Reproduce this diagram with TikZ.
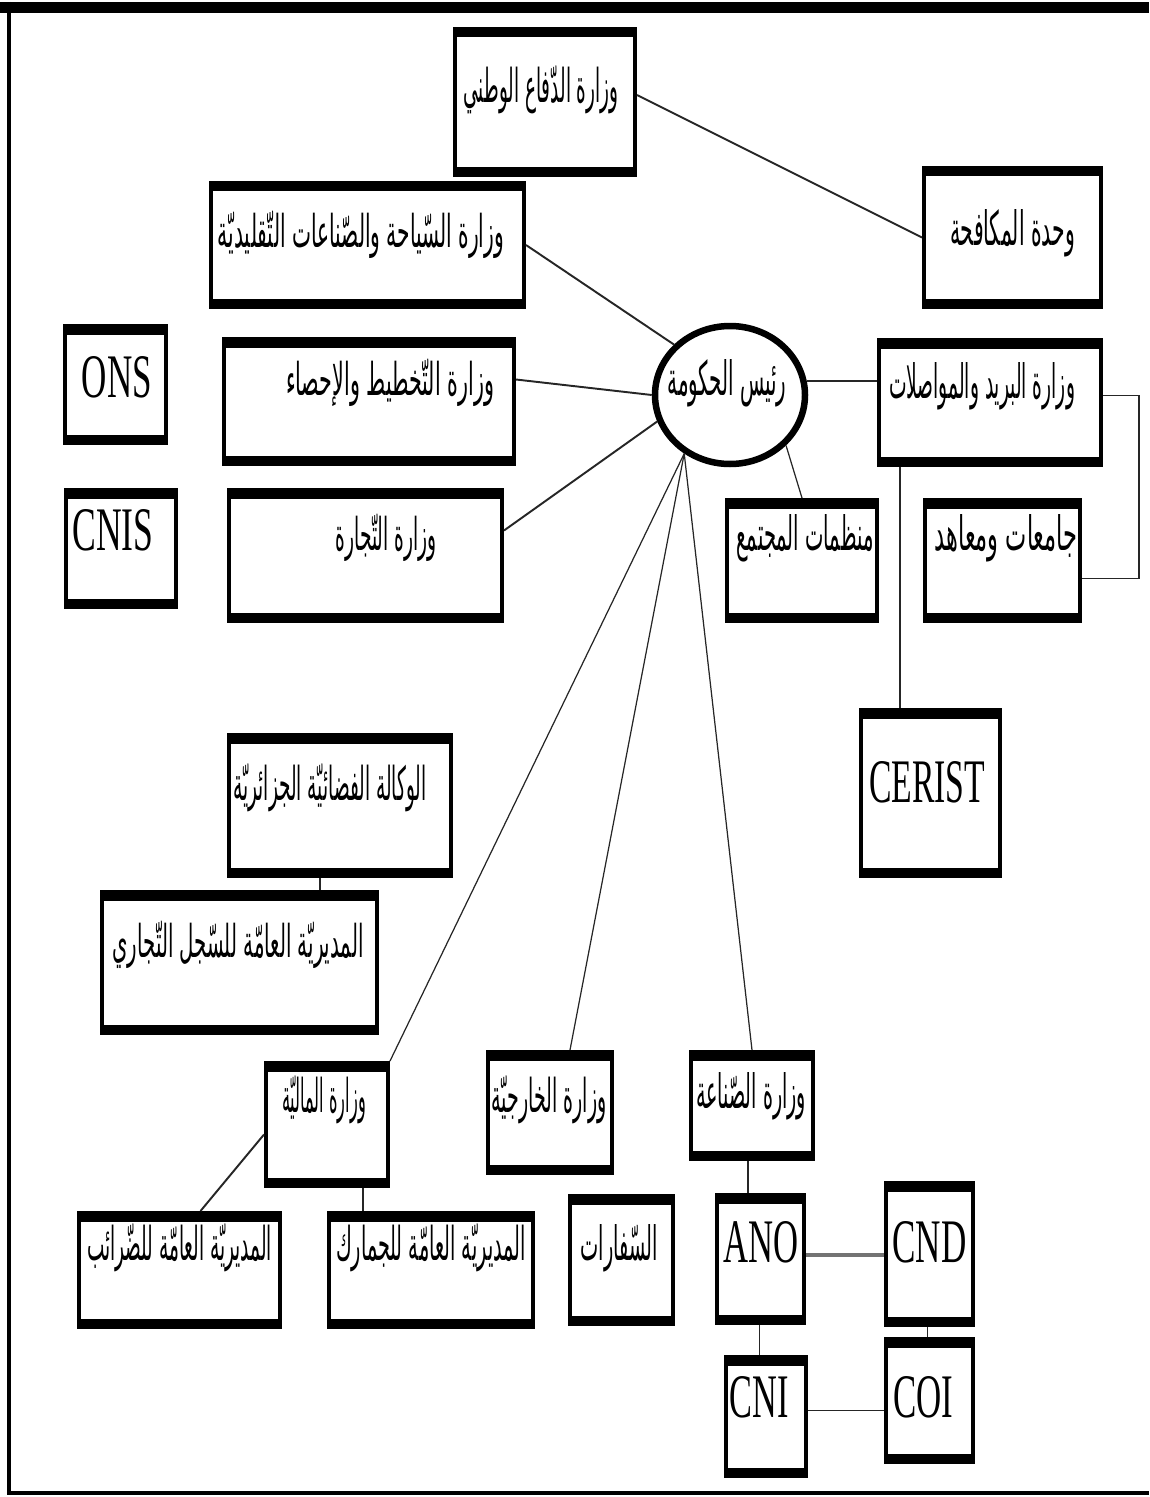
\documentclass[tikz,border=0pt]{standalone}
\usepackage{fontspec}
\usepackage{graphicx}
\usetikzlibrary{shapes.geometric,calc}
\TeXXeTstate=1
\newfontfamily\arabicfont[Script=Arabic]{DejaVu Sans}
\newfontfamily\latfont{Liberation Serif}
\newlength\pxu \setlength\pxu{0.02cm}
% #1 dx (px), #2 width (px), #3 text
\newcommand{\ARt}[3]{\ifdim #1pt>0pt\hspace*{#1\pxu}\hspace*{#1\pxu}\fi\resizebox{#2\pxu}{36\pxu}{\arabicfont #3}\ifdim #1pt<0pt\hspace*{-#1\pxu}\hspace*{-#1\pxu}\fi}
\newcommand{\LAt}[3]{\ifdim #1pt>0pt\hspace*{#1\pxu}\hspace*{#1\pxu}\fi\resizebox{#2\pxu}{41\pxu}{\latfont #3}\ifdim #1pt<0pt\hspace*{-#1\pxu}\hspace*{-#1\pxu}\fi}
\tikzset{
  bx/.style={draw, line width=0.08cm, inner sep=0pt,
    path picture={
      \fill[black] (path picture bounding box.north west) rectangle ([yshift=-0.17cm]path picture bounding box.north east);
      \fill[black] (path picture bounding box.south west) rectangle ([yshift=0.17cm]path picture bounding box.south east);
    }},
  sz/.style 2 args={minimum width=#1*0.02cm-0.08cm, minimum height=#2*0.02cm-0.08cm},
  % text height / depth (px) place the baseline
  tb/.style 2 args={text height=#1\pxu, text depth=#2\pxu},
  ln/.style={draw=black!85, line width=1.1pt},
  lnt/.style={draw=black!85, line width=0.7pt}
}
\begin{document}
\begin{tikzpicture}[x=0.02cm, y=-0.02cm]
\useasboundingbox (0,0) rectangle (1149,1497);
% frame
\draw[line width=0.22cm] (0,7.5) -- (1149,7.5);
\draw[line width=0.08cm] (9,2) -- (9,1494);
\draw[line width=0.07cm] (7,1493) -- (1149,1493);

% boxes  (Arabic: text height 36, depth = 36 - 2*dy ; Latin: 41, 41 - 2*dy)
\node[bx, sz={184}{150}, tb={36}{36}] (def) at (545,102) {\ARt{-4}{155}{\beginR وزارة الدّفاع الوطني\endR}};
\node[bx, sz={181}{143}, tb={36}{21}] (unit) at (1012.5,237.5) {\ARt{0}{125}{\beginR وحدة المكافحة\endR}};
\node[bx, sz={317}{128}, tb={36}{32}] (tour) at (367.5,245) {\ARt{-6.5}{286}{\beginR وزارة السّياحة والصّناعات التّقليديّة\endR}};
\node[bx, sz={105}{121}, tb={41}{16}] (ons) at (115.5,384.5) {\LAt{1.5}{70}{ONS}};
\node[bx, sz={294}{129}, tb={36}{49}] (plan) at (369,401.5) {\ARt{21}{208}{\beginR وزارة التّخطيط والإحصاء\endR}};
\node[draw, ellipse, line width=0.13cm, inner xsep=-10\pxu, inner ysep=0pt, minimum width=150*0.02cm, minimum height=138*0.02cm, tb={36}{36}] (ell) at (730,395) {\ARt{-3}{119}{\beginR رئيس الحكومة\endR}};
\node[bx, sz={226}{129}, tb={36}{45}] (post) at (990,402.5) {\ARt{-8}{186}{\beginR وزارة البريد والمواصلات\endR}};
\node[bx, sz={114}{121}, tb={41}{38}] (cnis) at (121,548.5) {\LAt{-8}{81}{CNIS}};
\node[bx, sz={277}{135}, tb={36}{47}] (comm) at (365.5,555.5) {\ARt{20.5}{101}{\beginR وزارة التّجارة\endR}};
\node[bx, sz={154}{125}, tb={36}{57}] (mun) at (802,560.5) {\ARt{3}{137}{\beginR منظمات المجتمع\endR}};
\node[bx, sz={159}{125}, tb={36}{57}] (jam) at (1002.5,560.5) {\ARt{3.5}{143}{\beginR جامعات ومعاهد\endR}};
\node[bx, sz={143}{170}, tb={41}{23}] (cer) at (930.5,793) {\LAt{-3.5}{116}{CERIST}};
\node[bx, sz={226}{145}, tb={36}{47}] (ag) at (340,805.5) {\ARt{-10}{193}{\beginR الوكالة الفضائيّة الجزائريّة\endR}};
\node[bx, sz={279}{145}, tb={36}{47}] (reg) at (239.5,962.5) {\ARt{-1.5}{251}{\beginR المديريّة العامّة للسّجل التّجاري\endR}};
\node[bx, sz={126}{127}, tb={36}{61}] (fin) at (327,1124.5) {\ARt{-3}{84}{\beginR وزارة الماليّة\endR}};
\node[bx, sz={128}{125}, tb={36}{37}] (for) at (550,1112.5) {\ARt{-1}{115}{\beginR وزارة الخارجيّة\endR}};
\node[bx, sz={126}{111}, tb={36}{31}] (ind) at (752,1105.5) {\ARt{-1}{110}{\beginR وزارة الصّناعة\endR}};
\node[bx, sz={205}{118}, tb={36}{56}] (tax) at (179.5,1270) {\ARt{0}{185}{\beginR المديريّة العامّة للضّرائب\endR}};
\node[bx, sz={208}{118}, tb={36}{56}] (cus) at (431,1270) {\ARt{0}{190}{\beginR المديريّة العامّة للجمارك\endR}};
\node[bx, sz={107}{132}, tb={36}{36}] (emb) at (621.5,1260) {\ARt{-2.5}{77}{\beginR السّفارات\endR}};
\node[bx, sz={91}{132}, tb={41}{35}] (ano) at (760.5,1259) {\LAt{0}{75}{ANO}};
\node[bx, sz={91}{146}, tb={41}{25}] (cnd) at (929.5,1254) {\LAt{0}{74}{CND}};
\node[bx, sz={84}{123}, tb={41}{40}] (cni) at (766,1416.5) {\LAt{-7}{59}{CNI}};
\node[bx, sz={91}{127}, tb={41}{8}] (coi) at (929.5,1400.5) {\LAt{-6.5}{60}{COI}};

% connectors
\draw[ln] ($(def.east)+(0,-7)$) -- (unit.west);
\draw[ln] (tour.east) -- (ell.138);
\draw[ln] ($(plan.east)+(0,-22)$) -- (ell.west);
\draw[ln] ($(comm.east)+(0,-25)$) -- (ell.200);
\draw[ln] (ell.10) -- (ell.10 -| post.west);
\draw[lnt] (ell.318) -- (mun.north);
\draw[lnt] (ell.232) -- (fin.north east);
\draw[lnt] (ell.232) -- ($(for.north)+(20,0)$);
\draw[lnt] (ell.232) -- (ind.north);
\draw[lnt] ($(post.south west)+(23,0)$) coordinate (pc) -- (pc |- cer.north);
\draw[ln] ($(post.east)+(0,-7)$) -- ++(36,0) |- ($(jam.east)+(0,18)$);
\draw[lnt] ($(ag.south)+(-20,0)$) coordinate (ac) -- (ac |- reg.north);
\draw[ln] ($(fin.west)+(0,10)$) -- ($(tax.north)+(21,0)$);
\draw[ln] ($(fin.south)+(36,0)$) coordinate (fc) -- (fc |- cus.north);
\draw[ln] ($(ind.south)+(-4,0)$) coordinate (ic) -- (ic |- ano.north);
\draw[draw=black!55, line width=2pt] ($(ano.east)+(0,-4)$) coordinate (nc) -- (nc -| cnd.west);
\draw[ln] ($(ano.south)+(-1,0)$) coordinate (oc) -- (oc |- cni.north);
\draw[ln] ($(cnd.south)+(-2,0)$) coordinate (dc) -- (dc |- coi.north);
\draw[ln] ($(cni.east)+(0,-6)$) coordinate (ec) -- (ec -| coi.west);
\end{tikzpicture}
\end{document}
